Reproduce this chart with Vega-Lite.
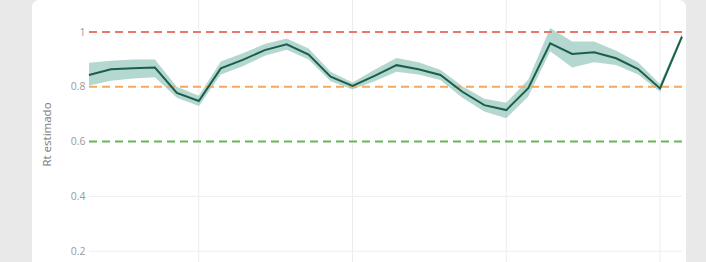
{
  "$schema": "https://vega.github.io/schema/vega-lite/v6.json",
  "width": 654,
  "height": 330,
  "autosize": {"type": "none"},
  "padding": {"left": 32, "top": 0, "right": 20, "bottom": 0},
  "background": "#e9e9e9",
  "config": {
    "view": {"fill": "white", "stroke": null, "cornerRadius": 7},
    "font": "Open Sans"
  },
  "datasets": {
    "rt": [
      {"fecha": "2020-07-01", "rt": 0.843, "lo": 0.805, "hi": 0.888},
      {"fecha": "2020-07-02", "rt": 0.864, "lo": 0.822, "hi": 0.895},
      {"fecha": "2020-07-03", "rt": 0.868, "lo": 0.830, "hi": 0.900},
      {"fecha": "2020-07-04", "rt": 0.870, "lo": 0.835, "hi": 0.900},
      {"fecha": "2020-07-05", "rt": 0.778, "lo": 0.760, "hi": 0.800},
      {"fecha": "2020-07-06", "rt": 0.748, "lo": 0.730, "hi": 0.767},
      {"fecha": "2020-07-07", "rt": 0.867, "lo": 0.845, "hi": 0.892},
      {"fecha": "2020-07-08", "rt": 0.898, "lo": 0.875, "hi": 0.922},
      {"fecha": "2020-07-09", "rt": 0.934, "lo": 0.913, "hi": 0.956},
      {"fecha": "2020-07-10", "rt": 0.955, "lo": 0.935, "hi": 0.976},
      {"fecha": "2020-07-11", "rt": 0.918, "lo": 0.900, "hi": 0.940},
      {"fecha": "2020-07-12", "rt": 0.837, "lo": 0.820, "hi": 0.855},
      {"fecha": "2020-07-13", "rt": 0.803, "lo": 0.790, "hi": 0.816},
      {"fecha": "2020-07-14", "rt": 0.840, "lo": 0.820, "hi": 0.862},
      {"fecha": "2020-07-15", "rt": 0.879, "lo": 0.855, "hi": 0.905},
      {"fecha": "2020-07-16", "rt": 0.864, "lo": 0.845, "hi": 0.890},
      {"fecha": "2020-07-17", "rt": 0.843, "lo": 0.825, "hi": 0.862},
      {"fecha": "2020-07-18", "rt": 0.782, "lo": 0.760, "hi": 0.802},
      {"fecha": "2020-07-19", "rt": 0.733, "lo": 0.710, "hi": 0.756},
      {"fecha": "2020-07-20", "rt": 0.715, "lo": 0.685, "hi": 0.742},
      {"fecha": "2020-07-21", "rt": 0.795, "lo": 0.765, "hi": 0.827},
      {"fecha": "2020-07-22", "rt": 0.959, "lo": 0.930, "hi": 1.015},
      {"fecha": "2020-07-23", "rt": 0.920, "lo": 0.870, "hi": 0.965},
      {"fecha": "2020-07-24", "rt": 0.926, "lo": 0.890, "hi": 0.965},
      {"fecha": "2020-07-25", "rt": 0.904, "lo": 0.880, "hi": 0.932},
      {"fecha": "2020-07-26", "rt": 0.865, "lo": 0.845, "hi": 0.890},
      {"fecha": "2020-07-27", "rt": 0.794, "lo": 0.782, "hi": 0.810},
      {"fecha": "2020-07-28", "rt": 0.983, "lo": 0.975, "hi": 0.995}
    ],
    "semanas": [
      {"fecha": "2020-07-06"},
      {"fecha": "2020-07-13"},
      {"fecha": "2020-07-20"},
      {"fecha": "2020-07-27"}
    ],
    "grilla": [
      {"valor": 0.2, "desde": "2020-07-01", "hasta": "2020-07-28"},
      {"valor": 0.4, "desde": "2020-07-01", "hasta": "2020-07-28"}
    ],
    "umbrales": [
      {"valor": 1.0, "nivel": "alto", "desde": "2020-07-01", "hasta": "2020-07-28"},
      {"valor": 0.8, "nivel": "medio", "desde": "2020-07-01", "hasta": "2020-07-28"},
      {"valor": 0.6, "nivel": "bajo", "desde": "2020-07-01", "hasta": "2020-07-28"}
    ]
  },
  "layer": [
    {
      "data": {"name": "semanas"},
      "mark": {"type": "rule", "color": "#ececec", "strokeWidth": 1},
      "encoding": {
        "x": {"field": "fecha", "type": "temporal", "scale": {"type": "utc", "domain": [{"year": 2020, "month": 7, "date": 1, "utc": true}, {"year": 2020, "month": 7, "date": 28, "utc": true}], "range": [57, 650]}, "axis": null}
      }
    },
    {
      "data": {"name": "grilla"},
      "mark": {"type": "rule", "color": "#eeeeee", "strokeWidth": 1},
      "encoding": {
        "x": {"field": "desde", "type": "temporal", "axis": null},
        "x2": {"field": "hasta"},
        "y": {"field": "valor", "type": "quantitative", "scale": {"domain": [0, 1], "range": [306, 32], "zero": false, "nice": false},
          "axis": {"title": "Rt estimado", "values": [0.2, 0.4, 0.6, 0.8, 1], "format": "~g", "offset": -57, "grid": false, "domain": false, "ticks": false, "labelPadding": 4, "labelColor": "#9a9a9a", "labelFontSize": 10.5, "labelFont": "Open Sans", "titleColor": "#7a7a7a", "titleFontSize": 11.5, "titleFontWeight": "normal", "titleFont": "Open Sans", "titleX": -42, "titleY": 134, "titleAngle": -90, "titleAlign": "center", "titleBaseline": "middle"}}
      }
    },
    {
      "data": {"name": "rt"},
      "mark": {"type": "area", "color": "#86bfb3", "opacity": 0.62},
      "encoding": {
        "x": {"field": "fecha", "type": "temporal", "axis": null},
        "y": {"field": "lo", "type": "quantitative", "axis": {"title": "Rt estimado", "values": [0.2, 0.4, 0.6, 0.8, 1], "format": "~g", "offset": -57, "grid": false, "domain": false, "ticks": false, "labelPadding": 4, "labelColor": "#9a9a9a", "labelFontSize": 10.5, "labelFont": "Open Sans", "titleColor": "#7a7a7a", "titleFontSize": 11.5, "titleFontWeight": "normal", "titleFont": "Open Sans", "titleX": -42, "titleY": 134, "titleAngle": -90, "titleAlign": "center", "titleBaseline": "middle"}},
        "y2": {"field": "hi"}
      }
    },
    {
      "data": {"name": "umbrales"},
      "mark": {"type": "rule", "strokeWidth": 2, "strokeDash": [8, 5]},
      "encoding": {
        "x": {"field": "desde", "type": "temporal", "axis": null},
        "x2": {"field": "hasta"},
        "y": {"field": "valor", "type": "quantitative", "axis": {"title": "Rt estimado", "values": [0.2, 0.4, 0.6, 0.8, 1], "format": "~g", "offset": -57, "grid": false, "domain": false, "ticks": false, "labelPadding": 4, "labelColor": "#9a9a9a", "labelFontSize": 10.5, "labelFont": "Open Sans", "titleColor": "#7a7a7a", "titleFontSize": 11.5, "titleFontWeight": "normal", "titleFont": "Open Sans", "titleX": -42, "titleY": 134, "titleAngle": -90, "titleAlign": "center", "titleBaseline": "middle"}},
        "color": {"field": "nivel", "type": "nominal", "scale": {"domain": ["alto", "medio", "bajo"], "range": ["#e8786c", "#f5a860", "#66b558"]}, "legend": null}
      }
    },
    {
      "data": {"name": "rt"},
      "mark": {"type": "line", "color": "#1b5e4b", "strokeWidth": 2},
      "encoding": {
        "x": {"field": "fecha", "type": "temporal", "axis": null},
        "y": {"field": "rt", "type": "quantitative", "axis": {"title": "Rt estimado", "values": [0.2, 0.4, 0.6, 0.8, 1], "format": "~g", "offset": -57, "grid": false, "domain": false, "ticks": false, "labelPadding": 4, "labelColor": "#9a9a9a", "labelFontSize": 10.5, "labelFont": "Open Sans", "titleColor": "#7a7a7a", "titleFontSize": 11.5, "titleFontWeight": "normal", "titleFont": "Open Sans", "titleX": -42, "titleY": 134, "titleAngle": -90, "titleAlign": "center", "titleBaseline": "middle"}}
      }
    }
  ]
}
